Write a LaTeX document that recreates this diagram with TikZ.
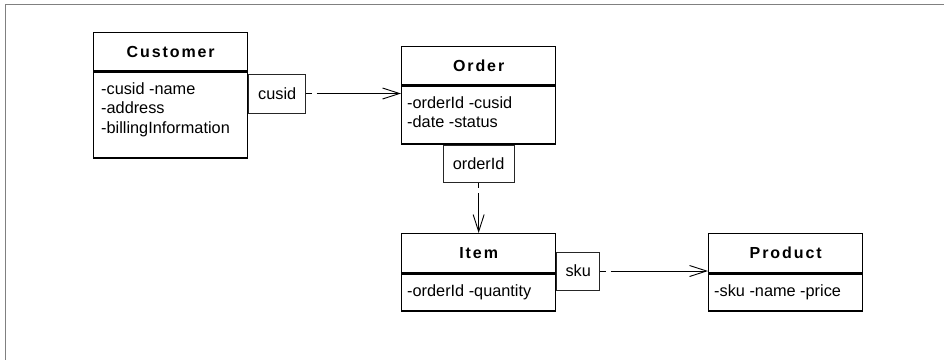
\documentclass[tikz,border=0pt]{standalone}
\usepackage{fontspec}
\setmainfont{Liberation Sans}
\newfontfamily\titlefont{Liberation Sans}[LetterSpace=12]
\usetikzlibrary{arrows.meta}

\tikzset{
  frameline/.style={draw=black!50, line width=1.5pt},
  classhead/.style={draw, line width=1.3pt, rectangle, inner sep=0pt,
    minimum width=154pt, minimum height=38pt, anchor=north west,
    font=\titlefont\bfseries\fontsize{16}{19}\selectfont},
  classbody/.style={draw, line width=1.3pt, rectangle, inner sep=0pt,
    minimum width=154pt, anchor=north west},
  attrs/.style={inner sep=0pt, align=left,
    font=\fontsize{16.3}{19.5}\selectfont},
  keybox/.style={draw=black!85, line width=0.9pt, rectangle, inner sep=0pt,
    font=\fontsize{16.3}{19.5}\selectfont},
  link/.style={line width=0.9pt, dash pattern=on 5.5pt off 5pt on 600pt,
    -{Straight Barb[length=17pt, width=11pt, line width=0.9pt]}}
}

\begin{document}
\begin{tikzpicture}[x=1pt, y=-1pt]
  \useasboundingbox (0,0) rectangle (944,360);

  % open frame along the top and left edges
  \draw[frameline] (944,4.5) -- (5.5,4.5) -- (5.5,360);

  % Customer
  \node[classhead] (custH) at (93,32) {Customer};
  \node[classbody, minimum height=86pt] (custB) at (custH.south west) {};
  \node[attrs, anchor=north west] (custT) at (101,82.2)
    {-cusid -name\\-address\\-billingInformation};

  % Order
  \node[classhead] (orderH) at (401,46) {Order};
  \node[classbody, minimum height=58pt] (orderB) at (orderH.south west) {};
  \node[attrs, anchor=north west] (orderT) at (407,96.2)
    {-orderId -cusid\\-date -status};

  % Item
  \node[classhead, minimum height=39pt] (itemH) at (401,233) {Item};
  \node[classbody, minimum height=37pt] (itemB) at (itemH.south west) {};
  \node[attrs, anchor=base west] (itemT) at (407,296) {-orderId -quantity};

  % Product
  \node[classhead, minimum height=39pt] (prodH) at (708,233) {Product};
  \node[classbody, minimum height=37pt] (prodB) at (prodH.south west) {};
  \node[attrs, anchor=base west] (prodT) at (714,296) {-sku -name -price};

  % key boxes attached to the classes
  \node[keybox, minimum width=57pt, minimum height=39pt, anchor=west]
    (cusidK) at (custH.south east |- 0,93.5) {cusid};
  \node[keybox, minimum width=71pt, minimum height=37pt, anchor=north]
    (orderK) at (orderB.south) {orderId};
  \node[keybox, minimum width=43pt, minimum height=38pt, anchor=west]
    (skuK) at (itemB.north east |- 0,271) {sku};

  % references
  \draw[link] (cusidK.east) -- (cusidK.east -| orderB.west);
  \draw[link] (orderK.south) -- (orderK.south |- itemH.north);
  \draw[link] (skuK.east) -- (skuK.east -| prodH.west);
\end{tikzpicture}
\end{document}
